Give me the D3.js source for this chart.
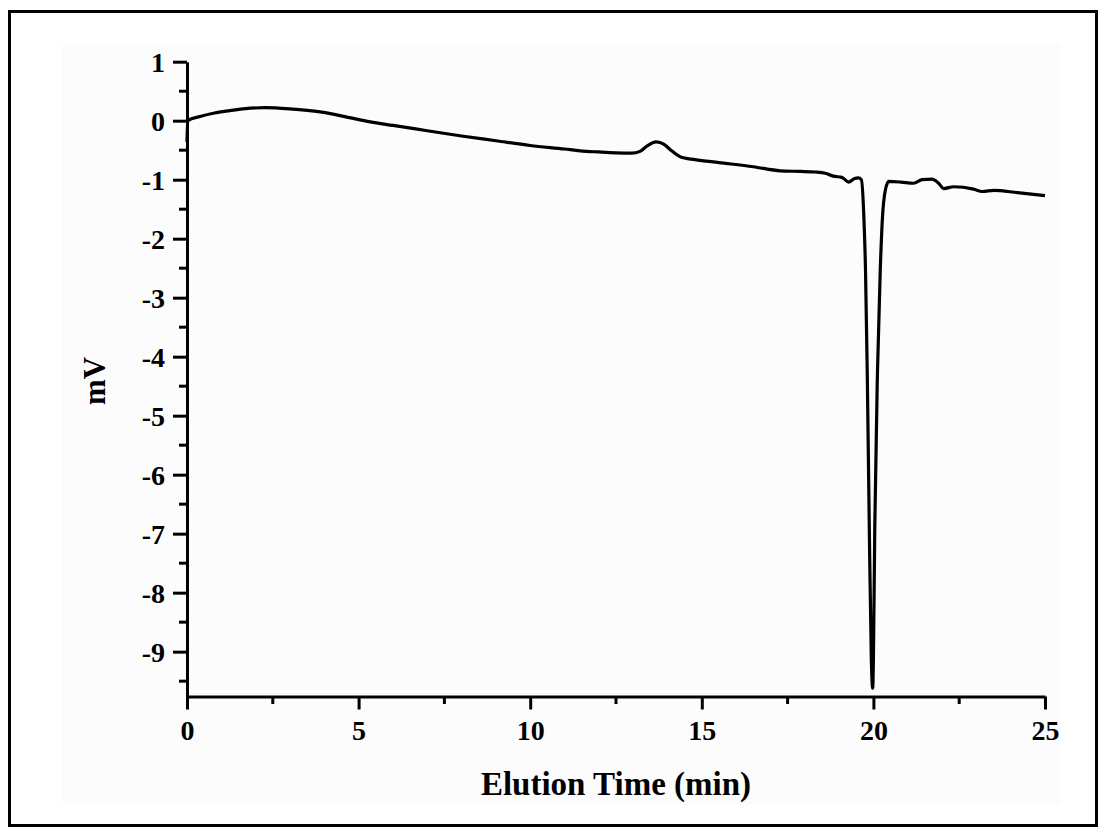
<!DOCTYPE html>
<html><head><meta charset="utf-8">
<script src="https://cdn.jsdelivr.net/npm/d3@7"></script>
<style>body{margin:0;background:#fff}</style>
</head><body>
<svg id="c" width="1104" height="834"></svg>
<script>
// Data (time in min, signal in mV)
const times = [0, 0.02, 0.38, 0.8, 1.25, 1.7, 2.27, 3.0, 3.88, 4.6, 5.34, 6, 7, 8, 9, 10, 11, 11.46, 12, 12.5, 12.96, 13.2, 13.4, 13.67, 13.9, 14.1, 14.37, 14.8, 15.5, 16.5, 17.29, 17.87, 18.3, 18.6, 18.83, 19.08, 19.28, 19.45, 19.56, 19.65, 19.72, 19.77, 19.82, 19.88, 19.94, 19.98, 20.0, 20.04, 20.12, 20.2, 20.26, 20.35, 20.45, 20.8, 21.17, 21.42, 21.71, 21.9, 22.05, 22.34, 22.92, 23.17, 23.51, 24.2, 25];
const signal = [-0.36, 0.0, 0.07, 0.13, 0.17, 0.205, 0.22, 0.2, 0.15, 0.07, -0.02, -0.08, -0.17, -0.26, -0.34, -0.42, -0.48, -0.51, -0.53, -0.545, -0.55, -0.52, -0.43, -0.36, -0.4, -0.5, -0.61, -0.66, -0.71, -0.78, -0.85, -0.86, -0.87, -0.89, -0.94, -0.96, -1.04, -0.98, -0.97, -1.0, -1.6, -2.53, -4.23, -6.89, -9.14, -9.62, -9.14, -6.89, -4.23, -2.53, -1.68, -1.17, -1.03, -1.04, -1.06, -1.0, -0.99, -1.06, -1.15, -1.12, -1.16, -1.2, -1.18, -1.22, -1.27];
const xTicks = [0, 5, 10, 15, 20, 25];
const yTicks = [1, 0, -1, -2, -3, -4, -5, -6, -7, -8, -9];
const xTitle = "Elution Time (min)";
const yTitle = "mV";

const svg = d3.select("#c");
const font = "'Liberation Serif','Times New Roman',serif";

// outer frame and faint plot background
svg.append("rect").attr("x", 62).attr("y", 43).attr("width", 999).attr("height", 762).attr("fill", "#fcfcfc");
svg.append("rect").attr("x", 9.5).attr("y", 11.5).attr("width", 1087).attr("height", 814)
  .attr("fill", "none").attr("stroke", "#000").attr("stroke-width", 3);

const x = d3.scaleLinear().domain([0, 25]).range([187, 1045]);
const y = d3.scaleLinear().domain([-9.76, 1]).range([696.5, 61.7]);

// minor ticks
const xMinor = d3.range(0, 25.01, 2.5).filter(v => v % 5 !== 0);
const yMinor = d3.range(-9.5, 1, 1);
svg.append("g").selectAll("line").data(xMinor).join("line")
  .attr("x1", d => x(d)).attr("x2", d => x(d)).attr("y1", 696.5).attr("y2", 704)
  .attr("stroke", "#000").attr("stroke-width", 3);
svg.append("g").selectAll("line").data(yMinor).join("line")
  .attr("x1", 187).attr("x2", 179).attr("y1", d => y(d)).attr("y2", d => y(d))
  .attr("stroke", "#000").attr("stroke-width", 3);

// axes
const fmt = d => String(d);
const gx = svg.append("g").attr("transform", "translate(0,696.5)")
  .call(d3.axisBottom(x).tickValues(xTicks).tickFormat(fmt).tickSize(13).tickPadding(11).tickSizeOuter(0));
const gy = svg.append("g").attr("transform", "translate(187,0)")
  .call(d3.axisLeft(y).tickValues(yTicks).tickFormat(fmt).tickSize(14).tickPadding(8).tickSizeOuter(0));
[gx, gy].forEach(g => {
  g.select(".domain").attr("stroke-width", 3).attr("stroke", "#000");
  g.selectAll(".tick line").attr("stroke-width", 3).attr("stroke", "#000");
  g.selectAll(".tick text").attr("font-family", font).attr("font-weight", "bold")
    .attr("font-size", 28).attr("fill", "#000");
});
gy.selectAll(".tick text").attr("dy", "0.34em");

// line
const pts = times.map((t, i) => [t, signal[i]]);
svg.append("path").datum(pts)
  .attr("fill", "none").attr("stroke", "#000").attr("stroke-width", 3.2)
  .attr("stroke-linejoin", "round")
  .attr("d", d3.line().x(d => x(d[0])).y(d => y(d[1])).curve(d3.curveMonotoneX));

// titles
svg.append("text").attr("x", 616).attr("y", 795).attr("text-anchor", "middle")
  .attr("font-family", font).attr("font-weight", "bold").attr("font-size", 33).text(xTitle);
svg.append("text").attr("transform", "translate(105,381) rotate(-90)").attr("text-anchor", "middle")
  .attr("font-family", font).attr("font-weight", "bold").attr("font-size", 31).text(yTitle);
</script>
</body></html>
